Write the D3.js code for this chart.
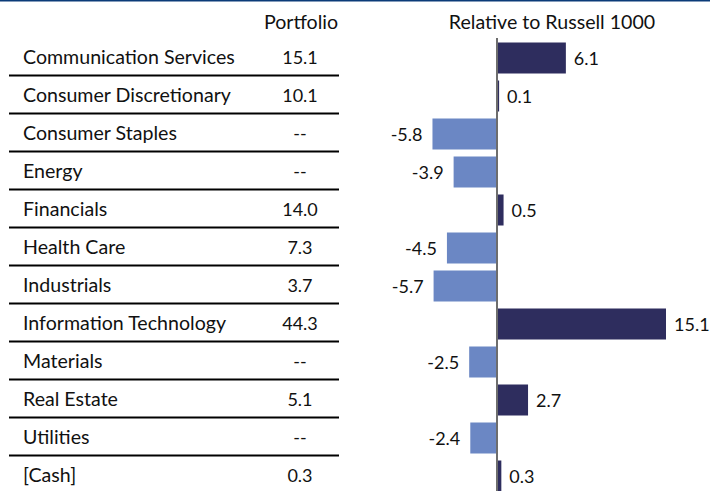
<!DOCTYPE html>
<html>
<head>
<meta charset="utf-8">
<script src="https://cdn.jsdelivr.net/npm/d3@7"></script>
<style>
  html, body { margin: 0; padding: 0; background: #fff; }
  svg { display: block; }
  text { font-family: "Gill Sans", "Gill Sans MT", Lato, "Open Sans", sans-serif; fill: #111; }
</style>
</head>
<body>
<svg id="chart" width="710" height="491"></svg>
<script>
const categories = ["Communication Services", "Consumer Discretionary", "Consumer Staples", "Energy",
  "Financials", "Health Care", "Industrials", "Information Technology", "Materials",
  "Real Estate", "Utilities", "[Cash]"];
const portfolio = ["15.1", "10.1", "--", "--", "14.0", "7.3", "3.7", "44.3", "--", "5.1", "--", "0.3"];
const relative = [6.1, 0.1, -5.8, -3.9, 0.5, -4.5, -5.7, 15.1, -2.5, 2.7, -2.4, 0.3];
const headers = ["Portfolio", "Relative to Russell 1000"];

const svg = d3.select("#chart");
const wordSize = 19.6;
const numSize = 18;

// top border
svg.append("rect").attr("x", 0).attr("y", 0).attr("width", 710).attr("height", 1.5).attr("fill", "#0b3b78");

const y = d3.scaleBand().domain(categories).range([37.5, 37.5 + 38 * categories.length]).paddingInner(0).paddingOuter(0);
const x = d3.scaleLinear().domain([0, 15.1]).range([497, 665]);

// headers
svg.append("text").attr("x", 301).attr("y", 29).attr("text-anchor", "middle")
  .style("font-size", wordSize + "px").text(headers[0]);
svg.append("text").attr("x", 552).attr("y", 29).attr("text-anchor", "middle")
  .style("font-size", wordSize + "px").text(headers[1]);

const rows = svg.append("g").selectAll("g").data(categories).join("g")
  .attr("transform", d => `translate(0,${y(d)})`);

rows.append("text").attr("x", 23).attr("y", y.bandwidth() / 2 + 7)
  .style("font-size", wordSize + "px").text(d => d);
rows.append("text").attr("x", 300).attr("y", y.bandwidth() / 2 + 7).attr("text-anchor", "middle")
  .style("font-size", numSize + "px").text((d, i) => portfolio[i]);

// separators (not after last row)
rows.filter((d, i) => i < categories.length - 1).append("line")
  .attr("x1", 9).attr("x2", 339).attr("y1", y.bandwidth()).attr("y2", y.bandwidth())
  .attr("stroke", "#000").attr("stroke-width", 2);

// bars
const barH = 31;
const barOff = (y.bandwidth() - barH) / 2 + 1.5;
svg.append("g").selectAll("rect").data(relative).join("rect")
  .attr("x", d => d >= 0 ? x(0) + 1 : x(d))
  .attr("y", (d, i) => y(categories[i]) + barOff)
  .attr("width", d => Math.abs(x(d) - x(0)))
  .attr("height", barH)
  .attr("fill", d => d >= 0 ? "#2e2d5e" : "#6b87c4");

svg.append("g").selectAll("text").data(relative).join("text")
  .attr("x", d => d >= 0 ? x(d) + 9 : x(d) - 10)
  .attr("y", (d, i) => y(categories[i]) + barOff + barH / 2 + 7)
  .attr("text-anchor", d => d >= 0 ? "start" : "end")
  .style("font-size", numSize + "px")
  .text(d => d.toFixed(1));

// zero axis
svg.append("line").attr("x1", x(0)).attr("x2", x(0)).attr("y1", 38).attr("y2", 491)
  .attr("stroke", "#6d6d6d").attr("stroke-width", 2);
</script>
</body>
</html>
